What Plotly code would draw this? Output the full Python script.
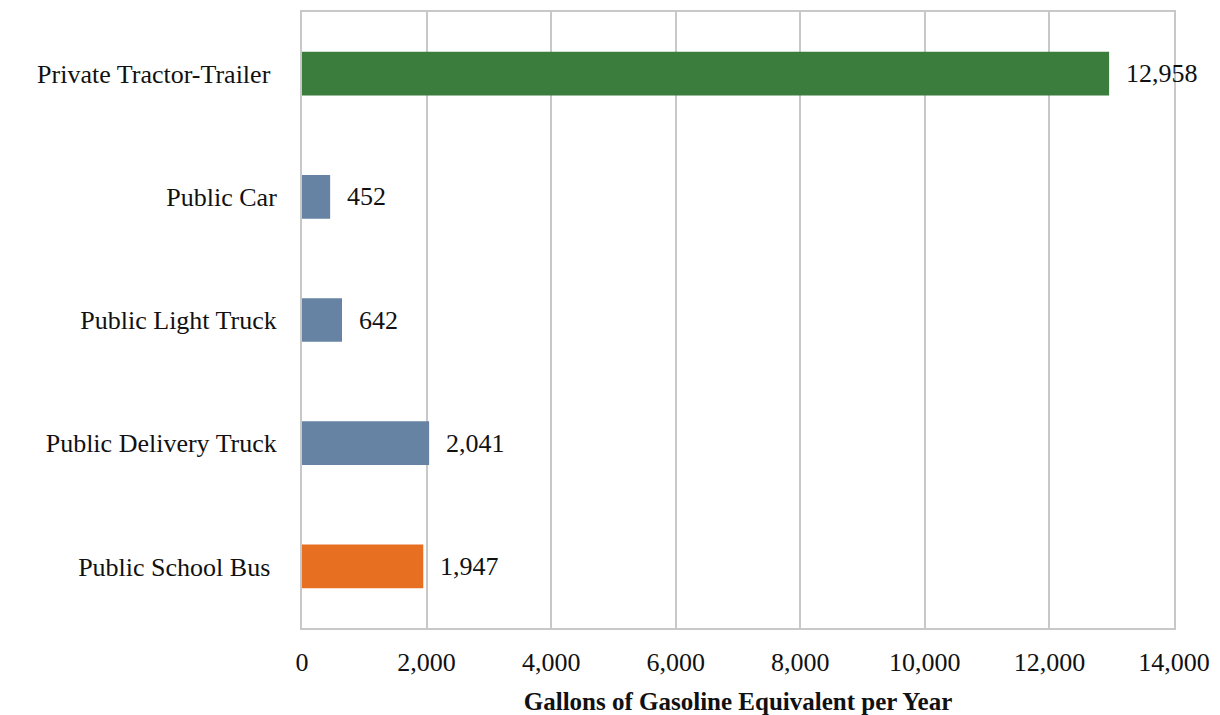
import plotly.graph_objects as go

categories = ["Private Tractor-Trailer\u00a0", "Public Car", "Public Light Truck",
              "Public Delivery Truck", "Public School Bus\u00a0"]
values = [12958, 452, 642, 2041, 1947]
colors = ["#3a7d3c", "#6683a3", "#6683a3", "#6683a3", "#e76f22"]
tick_vals = [0, 2000, 4000, 6000, 8000, 10000, 12000, 14000]
tick_text = ["0", "2,000", "4,000", "6,000", "8,000", "10,000", "12,000", "14,000"]
x_title = "Gallons of Gasoline Equivalent per Year"

FONT = "Liberation Serif"
FS = 26

fig = go.Figure()
fig.add_trace(go.Bar(
    y=categories, x=values, orientation="h",
    marker=dict(color=colors, line=dict(width=0)),
    width=0.355, hoverinfo="x+y",
))

for c, v in zip(categories, values):
    fig.add_annotation(x=v, y=c, xref="x", yref="y", text=f"{v:,}",
                       showarrow=False, xanchor="left", yanchor="middle",
                       xshift=15, font=dict(family=FONT, size=FS, color="#111111"))

# page body has an 8px margin; compensate so the plot area matches the reference
fig.update_layout(
    width=1212, height=707,
    margin=dict(l=294, r=46, t=2, b=87),
    paper_bgcolor="white", plot_bgcolor="white",
    showlegend=False,
    font=dict(family=FONT, size=FS, color="#111111"),
    xaxis=dict(
        range=[0, 14000], tickvals=tick_vals, ticktext=tick_text,
        showgrid=True, gridcolor="#c8c8c8", gridwidth=2,
        showline=True, linecolor="#c8c8c8", linewidth=2, mirror=True,
        ticks="outside", ticklen=10, tickcolor="rgba(0,0,0,0)",
        zeroline=False,
        title=dict(text=f"<b>{x_title}</b>", font=dict(family=FONT, size=25), standoff=16),
    ),
    yaxis=dict(
        categoryorder="array", categoryarray=categories[::-1],
        range=[-0.5, 4.5],
        showgrid=False, showline=True, linecolor="#c8c8c8", linewidth=2, mirror=True,
        ticks="outside", ticklen=18, tickcolor="rgba(0,0,0,0)",
    ),
)

fig.write_html("out.html")
